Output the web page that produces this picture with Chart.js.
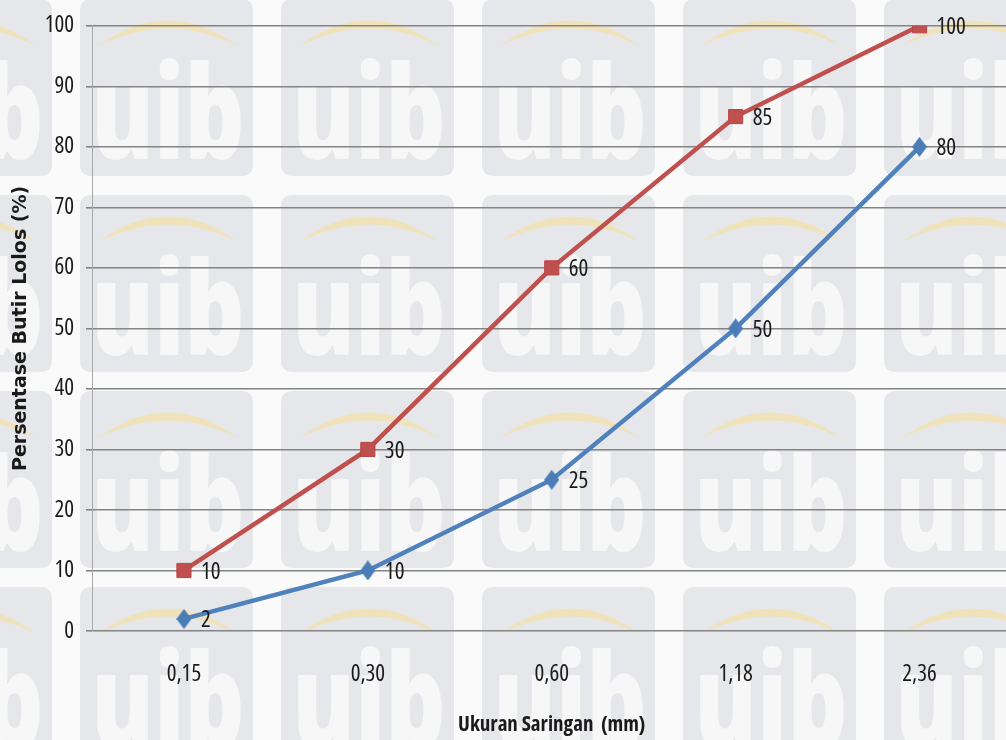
<!DOCTYPE html>
<html>
<head>
<meta charset="utf-8">
<script src="https://cdn.jsdelivr.net/npm/chart.js@4.4.1/dist/chart.umd.min.js"></script>
<style>
  html, body { margin: 0; padding: 0; overflow: hidden; background: #fafafa; }
  #wrap { position: relative; width: 1026px; height: 740px; }
</style>
</head>
<body>
<div id="wrap"><canvas id="c"></canvas></div>
<script>
// Sieve sizes (mm) and percent passing for the grading envelope
const sieveSizes = ['0,15', '0,30', '0,60', '1,18', '2,36'];
const upperLimit = [10, 30, 60, 85, 100];
const lowerLimit = [2, 10, 25, 50, 80];

const textFamily = "'Open Sans', sans-serif";

// Elongated diamond marker for the lower curve
function diamondMarker(w, h, color) {
  const cv = document.createElement('canvas');
  cv.width = w; cv.height = h;
  const g = cv.getContext('2d');
  g.fillStyle = color;
  g.beginPath();
  g.moveTo(w / 2, 0);
  g.lineTo(w, h / 2);
  g.lineTo(w / 2, h);
  g.lineTo(0, h / 2);
  g.closePath();
  g.fill();
  return cv;
}

function roundRect(ctx, x, y, w, h, r) {
  ctx.beginPath();
  ctx.moveTo(x + r, y);
  ctx.lineTo(x + w - r, y);
  ctx.quadraticCurveTo(x + w, y, x + w, y + r);
  ctx.lineTo(x + w, y + h - r);
  ctx.quadraticCurveTo(x + w, y + h, x + w - r, y + h);
  ctx.lineTo(x + r, y + h);
  ctx.quadraticCurveTo(x, y + h, x, y + h - r);
  ctx.lineTo(x, y + r);
  ctx.quadraticCurveTo(x, y, x + r, y);
  ctx.closePath();
}

// Tiled logo pattern painted behind the chart
const backdrop = {
  id: 'backdrop',
  beforeDraw(chart) {
    const ctx = chart.ctx;
    const W = chart.width, H = chart.height;
    ctx.save();
    ctx.fillStyle = '#fafafa';
    ctx.fillRect(0, 0, W, H);
    for (let x0 = -121; x0 < W; x0 += 201) {
      for (let y0 = -1; y0 < H; y0 += 196) {
        ctx.fillStyle = '#e6e7ea';
        roundRect(ctx, x0, y0, 173, 177, 12);
        ctx.fill();
        ctx.fillStyle = 'rgba(246, 224, 160, 0.65)';
        ctx.beginPath();
        ctx.moveTo(x0 + 18, y0 + 47);
        ctx.quadraticCurveTo(x0 + 88, y0 - 4, x0 + 158, y0 + 47);
        ctx.quadraticCurveTo(x0 + 88, y0 + 12, x0 + 18, y0 + 47);
        ctx.fill();
        ctx.save();
        ctx.translate(x0 + 88, y0 + 160);
        ctx.scale(0.72, 1);
        ctx.fillStyle = '#f7f7f8';
        ctx.font = "800 130px 'Open Sans', sans-serif";
        ctx.textAlign = 'center';
        ctx.textBaseline = 'alphabetic';
        ctx.fillText('uib', 0, 0);
        ctx.restore();
      }
    }
    ctx.restore();
  }
};

// Value labels to the right of each point
const valueLabels = {
  id: 'valueLabels',
  afterDatasetsDraw(chart) {
    const ctx = chart.ctx;
    ctx.save();
    ctx.font = 'condensed 23px ' + textFamily;
    ctx.fillStyle = '#1a1a1a';
    ctx.textAlign = 'left';
    ctx.textBaseline = 'middle';
    chart.data.datasets.forEach((ds, i) => {
      const meta = chart.getDatasetMeta(i);
      meta.data.forEach((pt, j) => {
        ctx.fillText(String(ds.data[j]), pt.x + 17, pt.y + 2);
      });
    });
    ctx.restore();
  }
};

new Chart(document.getElementById('c'), {
  type: 'line',
  data: {
    labels: sieveSizes,
    datasets: [
      {
        label: 'Batas Atas',
        data: upperLimit,
        borderColor: '#c0504d',
        backgroundColor: '#c0504d',
        borderWidth: 4.5,
        pointStyle: 'rect',
        pointRadius: 10,
        pointHoverRadius: 10,
        pointBorderWidth: 1,
        pointBackgroundColor: '#c0504d',
        pointBorderColor: '#b8464a',
        tension: 0
      },
      {
        label: 'Batas Bawah',
        data: lowerLimit,
        borderColor: '#4f81bd',
        backgroundColor: '#4f81bd',
        borderWidth: 4.5,
        pointStyle: diamondMarker(15, 20, '#4a7cb8'),
        pointRadius: 10,
        pointHoverRadius: 10,
        tension: 0
      }
    ]
  },
  options: {
    responsive: true,
    maintainAspectRatio: false,
    animation: false,
    events: [],
    layout: { padding: { top: 23, left: 0, right: 0, bottom: 0 } },
    plugins: {
      legend: { display: false },
      tooltip: { enabled: false }
    },
    scales: {
      x: {
        offset: true,
        grid: { display: false, drawTicks: false },
        border: { display: false },
        ticks: {
          color: '#1a1a1a',
          font: { family: textFamily, size: 23, weight: 'condensed' },
          padding: 30,
          maxRotation: 0
        },
        title: {
          display: true,
          text: 'Ukuran Saringan  (mm)',
          color: '#1a1a1a',
          font: { family: textFamily, size: 21, weight: 'bold condensed' },
          padding: { top: 0, bottom: 2 }
        },
        afterFit(scale) { scale.height = 109; }
      },
      y: {
        min: 0,
        max: 100,
        ticks: {
          stepSize: 10,
          color: '#1a1a1a',
          font: { family: textFamily, size: 23, weight: 'condensed' },
          padding: 12
        },
        grid: {
          color: '#848484',
          lineWidth: 1.6,
          tickLength: 6,
          drawTicks: true
        },
        border: { display: true, color: '#a8a8a8', width: 1 },
        title: {
          display: true,
          text: 'Persentase Butir Lolos (%)',
          color: '#1a1a1a',
          font: { family: "'DejaVu Sans', sans-serif", size: 19, weight: 'bold' },
          padding: { top: 10, bottom: 0 }
        },
        afterFit(scale) { scale.width = 92; }
      }
    }
  },
  plugins: [backdrop, valueLabels]
});
</script>
</body>
</html>
